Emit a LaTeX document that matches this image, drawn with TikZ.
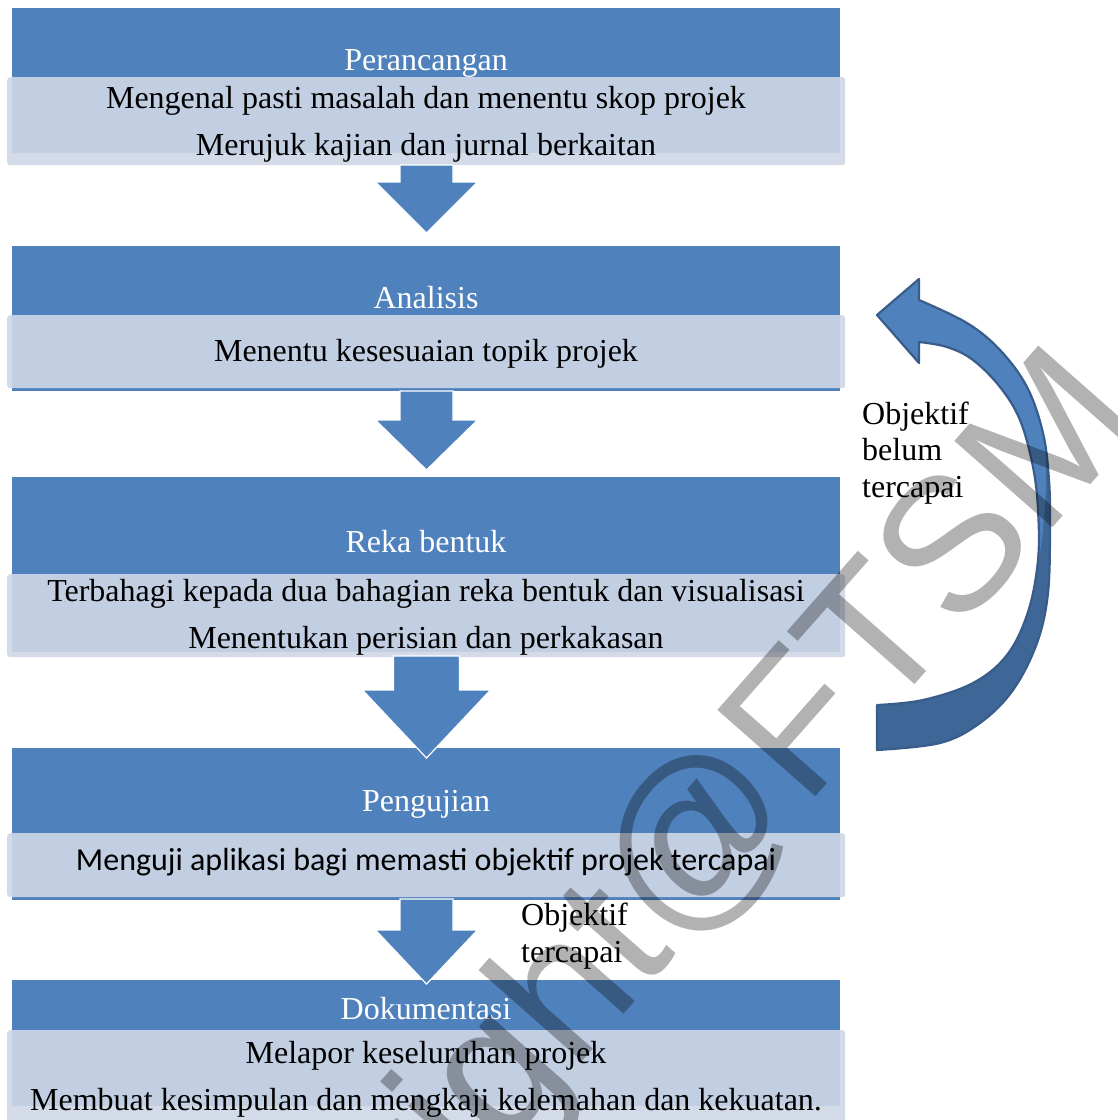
\documentclass[tikz,border=0pt]{standalone}
\usepackage{fontspec}
\setmainfont{Liberation Serif}
\newfontfamily\calfont{Carlito}
\newfontfamily\wmfont{Liberation Sans}
\definecolor{boxblue}{RGB}{79,129,189}
\definecolor{lightfill}{RGB}{207,215,230}
\definecolor{arcdark}{RGB}{62,102,150}
\definecolor{arcline}{RGB}{56,93,138}
\newcommand\flowarrow[5]{%
  \draw[flowshape] (426.5-#4,#1) -- (426.5+#4,#1) -- (426.5+#4,#2) -- (426.5+#5,#2)
    -- (426.5,#3) -- (426.5-#5,#2) -- (426.5-#4,#2) -- cycle;}
\begin{document}
\begin{tikzpicture}[x=1pt,y=-1pt,
  bluebox/.style={rectangle, fill=boxblue, draw=none, inner sep=0pt, anchor=north west},
  lightbox/.style={rectangle, fill=lightfill, fill opacity=0.9, draw=none, rounded corners=3pt, inner sep=0pt, anchor=north west},
  headtext/.style={text=white, font=\fontsize{32}{38}\selectfont, anchor=base, inner sep=0pt},
  bodytext/.style={text=black, font=\fontsize{32}{47}\selectfont, anchor=base, inner sep=0pt, align=center},
  notetext/.style={text=black, font=\fontsize{32}{36.5}\selectfont, anchor=base west, inner sep=0pt, align=left},
  flowshape/.style={fill=boxblue, draw=white, line width=1.2pt, line join=miter}]
\useasboundingbox (0,0) rectangle (1118,1120);

% stage boxes
\node[bluebox, minimum width=828pt, minimum height=145pt] (b1) at (12,8) {};
\node[lightbox, minimum width=838pt, minimum height=88pt] (l1) at (7,77) {};
\node[bluebox, minimum width=828pt, minimum height=145pt] (b2) at (12,246) {};
\node[lightbox, minimum width=838pt, minimum height=73pt] (l2) at (7,315) {};
\node[bluebox, minimum width=828pt, minimum height=175pt] (b3) at (12,477) {};
\node[lightbox, minimum width=838pt, minimum height=83pt] (l3) at (7,574) {};
\node[bluebox, minimum width=828pt, minimum height=152pt] (b4) at (12,748) {};
\node[lightbox, minimum width=838pt, minimum height=64pt] (l4) at (7,833) {};
\node[bluebox, minimum width=828pt, minimum height=126pt] (b5) at (12,980) {};
\node[lightbox, minimum width=838pt, minimum height=100pt] (l5) at (7,1030) {};

% down arrows
\flowarrow{165}{182}{233}{26.5}{51}
\flowarrow{391}{420}{470}{26.5}{51}
\flowarrow{656}{690}{758}{33}{64}
\flowarrow{899}{930}{984}{26.5}{51}

% texts (multi-line nodes: base = last line)
\node[headtext] (h1) at (426,70) {Perancangan};
\node[bodytext] (t1) at (426,155) {Mengenal pasti masalah dan menentu skop projek\\Merujuk kajian dan jurnal berkaitan};
\node[headtext] (h2) at (426,308) {Analisis};
\node[bodytext] (t2) at (426,361) {Menentu kesesuaian topik projek};
\node[headtext] (h3) at (426,552) {Reka bentuk};
\node[bodytext] (t3) at (426,648) {Terbahagi kepada dua bahagian reka bentuk dan visualisasi\\Menentukan perisian dan perkakasan};
\node[headtext] (h4) at (426,811) {Pengujian};
\node[bodytext, font=\calfont\fontsize{32}{38}\selectfont] (t4) at (426,870) {Menguji aplikasi bagi memasti objektif projek tercapai};
\node[headtext] (h5) at (426,1019) {Dokumentasi};
\node[bodytext] (t5) at (426,1110) {Melapor keseluruhan projek\\Membuat kesimpulan dan mengkaji kelemahan dan kekuatan.};

\node[notetext] (n1) at (862,497) {Objektif\\belum\\tercapai};
\node[notetext] (n2) at (521,962) {Objektif\\tercapai};

% curved feedback arrow
\path[fill=arcdark] (919,300) -- plot[smooth, tension=0.6] coordinates {(919,300) (967,323) (1000,350) (1027,387) (1043,433) (1049,480) (1050,527) (1048,593) (1037,643) (1013,690) (980,723) (940,743) (877,750)}
  -- (877,705) -- plot[smooth, tension=0.6] coordinates {(877,705) (923,700) (973,683) (1007,655) (1028,612) (1038,560) (1038,510) (1033,467) (1020,420) (1000,387) (973,360) (947,347) (919,342)}
  -- (919,363) -- (877,315) -- (919,279) -- cycle;
\path[fill=boxblue] (919,300) -- plot[smooth, tension=0.6] coordinates {(919,300) (967,323) (1000,350) (1027,387) (1043,433) (1046,480) (1043,530) (1038,565)}
  -- plot[smooth, tension=0.6] coordinates {(1038,565) (1038,510) (1033,467) (1020,420) (1000,387) (973,360) (947,347) (919,342)}
  -- (919,363) -- (877,315) -- (919,279) -- cycle;
\draw[arcline, line width=2.2pt, line join=round] (919,300) -- plot[smooth, tension=0.6] coordinates {(919,300) (967,323) (1000,350) (1027,387) (1043,433) (1049,480) (1050,527) (1048,593) (1037,643) (1013,690) (980,723) (940,743) (877,750)}
  -- (877,705) -- plot[smooth, tension=0.6] coordinates {(877,705) (923,700) (973,683) (1007,655) (1028,612) (1038,560) (1038,510) (1033,467) (1020,420) (1000,387) (973,360) (947,347) (919,342)}
  -- (919,363) -- (877,315) -- (919,279) -- cycle;

% watermark
\begin{scope}
\clip (0,0) rectangle (1118,1120);
\node[rotate=48.6, text=black, text opacity=0.3, inner sep=0pt, font=\wmfont\fontsize{190}{190}\selectfont] (wm) at (607,959) {Copyright@FTSM};
\end{scope}
\end{tikzpicture}
\end{document}
